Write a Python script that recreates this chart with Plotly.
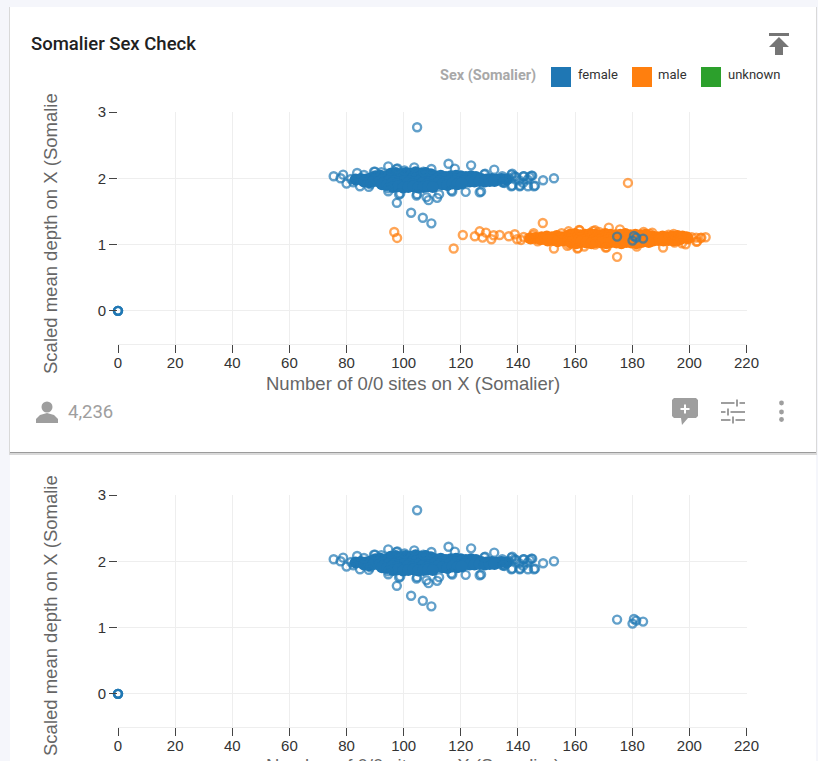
import plotly.graph_objects as go

W, H = 818, 761

# Single rings that can be told apart
female_x = [0, 0, 0, 0,
    104.7, 97.6, 102.6, 106.7, 109.7, 75.5, 77.9, 78.8, 80.0, 83.7, 89.6, 94.6, 97.5, 103.7, 109.7, 115.7,
    117.9, 123.6, 131.7, 137.7, 144.7, 152.6, 148.8, 145.6, 143.5, 140.6, 137.7, 126.6, 121.7, 116.7, 111.7,
    108.7, 108.0, 104.5, 98.4, 94.6, 87.8, 84.7, 135.2, 136.9, 138.8, 140.4, 142.1, 143.4,
    174.7, 180.6, 181.4, 180.1, 183.8,
    81.6, 82.4, 86.1, 92.2, 100.3, 106.9, 112.4, 128.2, 134.6, 139.3, 141.8, 144.1,
    97.8, 90.0, 128.5, 134.5, 138.0, 141.9, 145.0, 88.3, 94.6, 98.8, 104.7, 117.0, 127.1, 134.9, 138.0, 140.8, 146.0]
female_y = [0, 0, 0, 0,
    2.77, 1.63, 1.48, 1.405, 1.32, 2.03, 2.0, 2.055, 1.92, 2.08, 2.1, 2.18, 2.14, 2.165, 2.14, 2.22,
    2.145, 2.195, 2.13, 2.055, 2.04, 2.0, 1.97, 1.88, 1.88, 1.88, 1.88, 1.79, 1.795, 1.815, 1.705,
    1.67, 1.715, 1.74, 1.755, 1.805, 1.87, 1.88, 1.93, 2.0, 2.03, 1.97, 2.03, 1.98,
    1.12, 1.13, 1.105, 1.06, 1.09,
    1.99, 1.94, 2.05, 2.09, 2.12, 2.1, 1.76, 2.06, 1.94, 2.02, 1.93, 2.02,
    2.15, 2.1, 2.07, 2.03, 2.07, 2.03, 2.04, 1.91, 1.85, 1.77, 1.76, 1.8, 1.8, 1.94, 1.89, 1.89, 1.89]

male_x = [178.5, 148.7, 96.7, 97.7, 120.7, 117.5, 124.9, 126.6, 128.8, 127.6, 130.7, 131.5, 133.6, 136.8, 138.9,
    139.7, 142.0, 145.3, 152.6, 160.8, 174.7, 190.8, 198.7, 202.4, 205.7, 204.2, 202.5, 171.8, 175.7, 161.4,
    166.3, 170.7, 194.8,
    141.1, 143.7, 146.9, 155.3, 157.9, 163.2, 168.4, 181.6, 186.2, 192.7, 197.4, 199.6, 200.8,
    157.7, 161.6, 167.0, 184.0, 187.0, 194.5, 145.5, 202.7, 203.9, 157.3, 167.0, 161.0, 171.0]
male_y = [1.93, 1.325, 1.19, 1.10, 1.145, 0.94, 1.125, 1.2, 1.18, 1.105, 1.08, 1.14, 1.145, 1.125, 1.155,
    1.08, 1.115, 1.14, 0.94, 0.94, 0.815, 0.955, 1.005, 1.105, 1.11, 1.105, 1.04, 1.255, 1.23, 1.22,
    1.205, 0.955, 1.03,
    1.07, 1.1, 1.05, 1.17, 1.0, 0.97, 1.19, 0.97, 1.16, 1.15, 1.02, 1.08, 1.11,
    1.2, 1.215, 1.215, 1.19, 1.18, 1.16, 1.17, 1.05, 1.1, 0.98, 1.0, 0.95, 0.96]

# Rows through the solid bands, where rings overplot into a filled shape
female_core_x = [95.4, 97.2, 98.9, 100.7, 102.5, 104.2, 106.0, 107.7, 109.5,
    90.1, 91.9, 93.6, 95.4, 97.2, 98.9, 100.7, 102.4, 104.2, 106.0, 107.7, 109.5, 111.2, 113.0, 114.8, 116.5, 118.3, 120.0, 121.8, 123.6, 125.3,
    83.2, 85.0, 86.8, 88.5, 90.3, 92.0, 93.8, 95.6, 97.3, 99.1, 100.8, 102.6, 104.4, 106.1, 107.9, 109.6, 111.4, 113.2, 114.9, 116.7, 118.4, 120.2, 122.0, 123.7, 125.5, 127.2, 129.0, 130.8, 132.5, 134.3, 135.9,
    86.1, 87.9, 89.6, 91.4, 93.2, 94.9, 96.7, 98.4, 100.2, 102.0, 103.7, 105.5, 107.2, 109.0, 110.8, 112.5, 114.3, 116.0, 117.8, 119.6, 121.3, 123.1, 124.8, 126.6, 128.4, 130.1, 131.8,
    92.4, 94.2, 95.9, 97.7, 99.5, 101.2, 103.0, 104.7, 106.5, 108.3, 110.0, 111.8, 113.5, 115.3, 117.1, 118.8, 120.3,
    96.3, 98.1, 99.8, 101.6, 103.4, 105.1, 106.9, 108.6, 110.2]
female_core_y = [2.07, 2.08, 2.06, 2.08, 2.07, 2.09, 2.07, 2.08, 2.06,
    2.03, 2.04, 2.02, 2.04, 2.03, 2.04, 2.02, 2.03, 2.05, 2.03, 2.04, 2.02, 2.03, 2.04, 2.02, 2.03, 2.04, 2.03, 2.02, 2.03, 2.02,
    1.98, 1.99, 1.98, 2.0, 1.99, 1.98, 2.0, 1.99, 1.98, 2.0, 1.99, 1.98, 2.0, 1.99, 1.98, 2.0, 1.99, 1.98, 2.0, 1.99, 1.98, 2.0, 1.99, 1.98, 2.0, 1.99, 1.98, 1.99, 1.98, 1.99, 1.98,
    1.95, 1.94, 1.96, 1.95, 1.94, 1.96, 1.95, 1.94, 1.96, 1.95, 1.94, 1.96, 1.95, 1.94, 1.96, 1.95, 1.94, 1.96, 1.95, 1.94, 1.96, 1.95, 1.95, 1.96, 1.95, 1.96, 1.96,
    1.91, 1.9, 1.92, 1.91, 1.9, 1.92, 1.91, 1.9, 1.92, 1.91, 1.9, 1.92, 1.91, 1.9, 1.92, 1.91, 1.92,
    1.87, 1.88, 1.86, 1.87, 1.88, 1.86, 1.87, 1.88, 1.87]

male_core_x = [158.2, 160.0, 161.8, 163.5, 165.3, 167.0, 168.8, 170.6, 172.3, 174.1, 175.8, 177.6, 179.4, 181.1, 182.9, 184.6,
    148.3, 150.1, 151.9, 153.6, 155.4, 157.1, 158.9, 160.7, 162.4, 164.2, 165.9, 167.7, 169.5, 171.2, 173.0, 174.7, 176.5, 178.3, 180.0, 181.8, 183.5, 185.3, 187.1, 188.8, 190.6, 192.3, 194.1, 195.9, 197.6, 199.0,
    144.4, 146.2, 148.0, 149.7, 151.5, 153.2, 155.0, 156.8, 158.5, 160.3, 162.0, 163.8, 165.6, 167.3, 169.1, 170.8, 172.6, 174.4, 176.1, 177.9, 179.6, 181.4, 183.2, 184.9, 186.7, 188.4, 190.2, 192.0, 193.7, 195.5, 197.2, 199.3,
    150.4, 152.2, 153.9, 155.7, 157.5, 159.2, 161.0, 162.7, 164.5, 166.3, 168.0, 169.8, 171.5, 173.3, 175.1, 176.8, 178.6, 180.3, 182.1, 183.9, 185.6, 187.4, 189.1, 190.9, 192.7, 194.4, 196.1,
    158.6, 160.4, 162.1, 163.9, 165.7, 167.4, 169.2, 170.9, 172.7, 174.5, 176.2, 178.0, 179.7, 181.5, 183.3, 185.8]
male_core_y = [1.15, 1.16, 1.14, 1.15, 1.16, 1.15, 1.14, 1.16, 1.15, 1.14, 1.15, 1.16, 1.14, 1.15, 1.14, 1.15,
    1.11, 1.12, 1.11, 1.13, 1.11, 1.12, 1.13, 1.11, 1.12, 1.11, 1.13, 1.12, 1.11, 1.13, 1.12, 1.11, 1.12, 1.13, 1.11, 1.12, 1.11, 1.13, 1.12, 1.11, 1.12, 1.11, 1.12, 1.13, 1.12, 1.11,
    1.09, 1.1, 1.08, 1.09, 1.1, 1.08, 1.09, 1.1, 1.08, 1.09, 1.1, 1.08, 1.09, 1.1, 1.08, 1.09, 1.1, 1.08, 1.09, 1.1, 1.08, 1.09, 1.1, 1.08, 1.09, 1.1, 1.08, 1.09, 1.1, 1.08, 1.09, 1.1,
    1.06, 1.07, 1.05, 1.06, 1.07, 1.05, 1.06, 1.07, 1.05, 1.06, 1.07, 1.05, 1.06, 1.07, 1.05, 1.06, 1.07, 1.05, 1.06, 1.07, 1.05, 1.06, 1.07, 1.06, 1.07, 1.06, 1.07,
    1.03, 1.02, 1.04, 1.03, 1.02, 1.04, 1.03, 1.02, 1.04, 1.03, 1.02, 1.04, 1.03, 1.02, 1.04, 1.04]

x_ticks = [0, 20, 40, 60, 80, 100, 120, 140, 160, 180, 200, 220]
y_ticks = [0, 1, 2, 3]
legend_names = ["female", "male", "unknown"]
legend_colors = ["#1f77b4", "#ff7f0e", "#2ca02c"]

x_title = "Number of 0/0 sites on X (Somalier)"
y_title = "Scaled mean depth on X (Somalie"


def fx(x):
    return x / W


def fy(y):
    return 1 - y / H


def pt(x, y):
    return f"{fx(x):.5f},{fy(y):.5f}"


def rect(x0, y0, x1, y1, color, layer="below"):
    return dict(type="rect", xref="paper", yref="paper", x0=fx(x0), x1=fx(x1), y0=fy(y0), y1=fy(y1),
                fillcolor=color, line_width=0, layer=layer)


def poly(points, color):
    path = "M" + " L".join(pt(x, y) for x, y in points) + " Z"
    return dict(type="path", xref="paper", yref="paper", path=path, fillcolor=color, line_width=0, layer="above")


def dot(x, y, r, color):
    return dict(type="circle", xref="paper", yref="paper", x0=fx(x - r), x1=fx(x + r), y0=fy(y - r), y1=fy(y + r),
                fillcolor=color, line_width=0, layer="above")


def text(x, y, s, size, color, anchor="left", family="Roboto", weight="normal", **kw):
    return dict(xref="paper", yref="paper", x=fx(x), y=fy(y), text=s, showarrow=False, xanchor=anchor,
                yanchor="middle", font=dict(family=family, size=size, color=color, weight=weight), **kw)


def rings(x, y, color, name, xaxis, yaxis):
    return go.Scatter(x=x, y=y, mode="markers", name=name, xaxis=xaxis, yaxis=yaxis, cliponaxis=False,
                      showlegend=False,
                      marker=dict(symbol="circle-open", size=8, opacity=0.7, color=color,
                                  line=dict(width=2.4, color=color)))


def core(x, y, color, name, xaxis, yaxis):
    return go.Scatter(x=x, y=y, mode="markers", name=name, xaxis=xaxis, yaxis=yaxis, cliponaxis=False,
                      showlegend=False, marker=dict(symbol="circle", size=12, color=color, line_width=0))


fig = go.Figure()
fig.add_trace(core(male_core_x, male_core_y, legend_colors[1], "male", "x", "y"))
fig.add_trace(rings(male_x, male_y, legend_colors[1], "male", "x", "y"))
fig.add_trace(core(female_core_x, female_core_y, legend_colors[0], "female", "x", "y"))
fig.add_trace(rings(female_x, female_y, legend_colors[0], "female", "x", "y"))
fig.add_trace(core(female_core_x, female_core_y, legend_colors[0], "female", "x2", "y2"))
fig.add_trace(rings(female_x, female_y, legend_colors[0], "female", "x2", "y2"))

axis_x = dict(range=[0, 220], tickvals=x_ticks, ticks="outside", ticklen=8, tickcolor="#444", tickwidth=1,
              tickfont=dict(family="Liberation Sans", size=15, color="#333"), showgrid=True, gridcolor="#eeeeee",
              gridwidth=1, zeroline=False, showline=True, linecolor="#eeeeee", linewidth=1, automargin=False,
              ticklabelstandoff=-3, domain=[fx(118), fx(746.5)])
axis_y = dict(range=[-0.5, 3], tickvals=y_ticks, ticks="outside", ticklen=8, tickcolor="#444", tickwidth=1,
              tickfont=dict(family="Liberation Sans", size=15, color="#333"), showgrid=True, gridcolor="#eeeeee",
              gridwidth=1, zeroline=False, showline=False, automargin=False)

# Card backgrounds, shadow, legend swatches and the little card icons
shapes = [
    rect(9, 7, 817, 455, "#d9d9d9"),
    rect(10, 7, 816, 453, "#9b9b9b"),
    rect(10, 7, 816, 452, "#ffffff"),
    rect(10, 455, 816, 761, "#ffffff"),
]
for x0, c in zip([551, 632, 701], legend_colors):
    shapes.append(rect(x0, 67, x0 + 20, 87, c))

grey = "#9e9e9e"
# export arrow
shapes.append(poly([(769, 33), (789, 33), (789, 36), (769, 36)], "#757575"))
shapes.append(poly([(779, 37), (789, 47), (783, 47), (783, 55), (775, 55), (775, 47), (769, 47)], "#757575"))
# person
shapes.append(dot(47, 407, 5.5, grey))
shapes.append(poly([(36, 423), (36, 419), (40, 415), (47, 413), (54, 415), (58, 419), (58, 423)], grey))
# add comment
shapes.append(poly([(672, 400), (674, 398), (696, 398), (698, 400), (698, 416), (696, 418), (688, 418), (682, 425),
                    (681, 418), (674, 418), (672, 416)], grey))
shapes.append(poly([(684, 404.5), (686, 404.5), (686, 408), (689.5, 408), (689.5, 410), (686, 410), (686, 413.5),
                    (684, 413.5), (684, 410), (680.5, 410), (680.5, 408), (684, 408)], "#ffffff"))
# tune sliders: row height, knob centre
for y0, kx in [(403, 737), (412, 728), (420, 733)]:
    shapes.append(poly([(721, y0 - 1), (kx - 2.5, y0 - 1), (kx - 2.5, y0 + 1), (721, y0 + 1)], grey))
    shapes.append(poly([(kx + 2.5, y0 - 1), (745, y0 - 1), (745, y0 + 1), (kx + 2.5, y0 + 1)], grey))
    shapes.append(poly([(kx - 1, y0 - 3.5), (kx + 1, y0 - 3.5), (kx + 1, y0 + 3.5), (kx - 1, y0 + 3.5)], grey))
# menu dots
for y0 in [403, 412, 419.5]:
    shapes.append(dot(781.5, y0, 2.4, grey))

annotations = [
    text(29, 44, "Somalier Sex Check", 18.5, "#212121", weight=500),
    text(538, 76, "Sex (Somalier)", 14.5, "#a8a8a8", anchor="right", weight="bold"),
    text(576, 75, legend_names[0], 13, "#333"),
    text(656, 75, legend_names[1], 13, "#333"),
    text(726, 75, legend_names[2], 13, "#333"),
    text(66, 412, "4,236", 18.5, grey),
    text(50, 234, y_title, 18.5, "#666", anchor="center", family="Liberation Sans", textangle=-90),
    text(50, 616, y_title, 18.5, "#666", anchor="center", family="Liberation Sans", textangle=-90),
    text(413, 383, x_title, 18.5, "#666", anchor="center", family="Liberation Sans"),
    text(413, 765, x_title, 18.5, "#666", anchor="center", family="Liberation Sans"),
]

fig.update_layout(
    width=W, height=H, margin=dict(l=0, r=0, t=0, b=0), autosize=False,
    paper_bgcolor="#f5f6fb", plot_bgcolor="rgba(0,0,0,0)",
    xaxis=dict(axis_x, anchor="y"),
    yaxis=dict(axis_y, domain=[fy(344), fy(112)], anchor="x"),
    xaxis2=dict(axis_x, anchor="y2"),
    yaxis2=dict(axis_y, domain=[fy(727), fy(495)], anchor="x2"),
    shapes=shapes, annotations=annotations,
)

fig.write_html("out.html", config=dict(displayModeBar=False),
               post_script="document.body.style.margin='0';document.documentElement.style.overflow='hidden';")
